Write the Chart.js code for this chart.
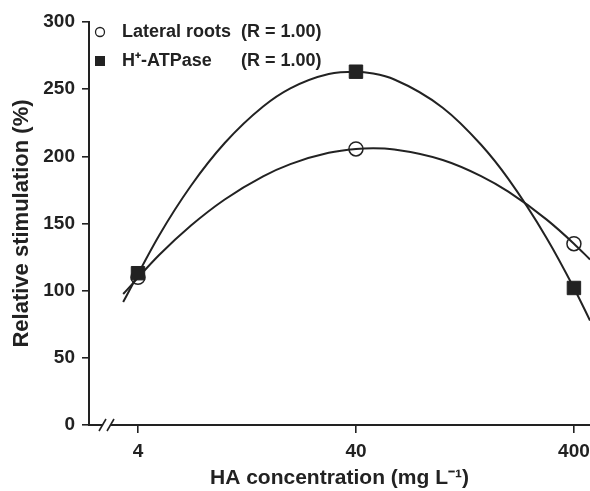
<!DOCTYPE html>
<html>
<head>
<meta charset="utf-8">
<script src="https://cdn.jsdelivr.net/npm/chart.js@4"></script>
<style>
  html, body { margin: 0; padding: 0; background: #fff; }
  #wrap { width: 590px; height: 491px; position: relative; }
</style>
</head>
<body>
<div id="wrap"><canvas id="chart"></canvas></div>
<script>
// measured points (HA concentration, mg/L)
const concentrations = [4, 40, 400];
const lateralRoots = [110, 205.5, 135];
const hAtpase = [113, 263, 102];

// fitted curves
const fitX = [3.42, 5, 7, 10, 15, 20, 30, 40, 48, 60, 100, 150, 200, 300, 400, 474];
const lateralFit = [97.5, 126.5, 148.5, 167.9, 185.1, 194.2, 202.6, 205.5, 206, 205.1, 197.3, 185.3, 173.7, 152.9, 135, 123.2];
const atpaseFit = [91.5, 141.1, 178.1, 209.9, 237.1, 250.6, 261.3, 263, 261.6, 257.2, 236.2, 208.6, 183.2, 139.1, 102, 77.8];

const xTicks = [4, 40, 400];
const yTicks = [0, 50, 100, 150, 200, 250, 300];
const legendNote = '(R = 1.00)';

const INK = '#222';
const FONT = '"Liberation Sans", Arial, Helvetica, sans-serif';

const toPoints = (xs, ys) => xs.map((x, i) => ({ x, y: ys[i] }));

// axis break marks + legend drawn on top
const extras = {
  id: 'extras',
  afterDraw(chart) {
    const { ctx, chartArea } = chart;
    const y0 = chartArea.bottom;

    ctx.save();
    // the "//" break on the x axis
    ctx.fillStyle = '#fff';
    ctx.fillRect(103, y0 - 2, 8, 4);
    ctx.strokeStyle = INK;
    ctx.lineWidth = 1.6;
    [[99, 106], [107, 114]].forEach(([a, b]) => {
      ctx.beginPath();
      ctx.moveTo(a, y0 + 6);
      ctx.lineTo(b, y0 - 6);
      ctx.stroke();
    });

    // legend
    ctx.font = `bold 18px ${FONT}`;
    ctx.textBaseline = 'middle';
    const rows = [
      { label: chart.data.datasets[0].label, y: 32, mark: 'circle' },
      { label: chart.data.datasets[1].label, y: 61, mark: 'rect' },
    ];
    rows.forEach((r) => {
      if (r.mark === 'circle') {
        ctx.beginPath();
        ctx.arc(100, r.y, 4.5, 0, Math.PI * 2);
        ctx.fillStyle = '#fff';
        ctx.fill();
        ctx.lineWidth = 1.3;
        ctx.strokeStyle = INK;
        ctx.stroke();
      } else {
        ctx.fillStyle = INK;
        ctx.fillRect(95, r.y - 5, 10, 10);
      }
      ctx.fillStyle = INK;
      ctx.fillText(r.label, 122, r.y);
      ctx.fillText(legendNote, 241, r.y);
    });
    ctx.restore();
  },
};

new Chart(document.getElementById('chart'), {
  type: 'scatter',
  data: {
    datasets: [
      {
        label: 'Lateral roots',
        data: toPoints(concentrations, lateralRoots),
        showLine: false,
        pointStyle: 'circle',
        pointRadius: 7,
        pointBackgroundColor: 'rgba(255,255,255,0)',
        pointBorderColor: INK,
        pointBorderWidth: 1.5,
        order: 1,
      },
      {
        label: 'H⁺-ATPase',
        data: toPoints(concentrations, hAtpase),
        showLine: false,
        pointStyle: 'rect',
        pointRadius: 9.5,
        pointBackgroundColor: INK,
        pointBorderColor: INK,
        pointBorderWidth: 1,
        order: 0,
      },
      {
        label: 'Lateral roots fit',
        data: toPoints(fitX, lateralFit),
        showLine: true,
        pointRadius: 0,
        borderColor: INK,
        borderWidth: 2,
        cubicInterpolationMode: 'monotone',
        order: 2,
      },
      {
        label: 'H⁺-ATPase fit',
        data: toPoints(fitX, atpaseFit),
        showLine: true,
        pointRadius: 0,
        borderColor: INK,
        borderWidth: 2,
        cubicInterpolationMode: 'monotone',
        order: 2,
      },
    ],
  },
  options: {
    responsive: true,
    maintainAspectRatio: false,
    animation: false,
    layout: { autoPadding: false, padding: { top: 22, right: 0, bottom: 0, left: 0 } },
    plugins: {
      legend: { display: false },
      tooltip: { enabled: false },
    },
    scales: {
      x: {
        type: 'logarithmic',
        min: 2.384,
        max: 474,
        afterBuildTicks: (scale) => { scale.ticks = xTicks.map((v) => ({ value: v })); },
        afterFit: (scale) => {
          scale.height = 66;
          scale.paddingLeft = 0;
          scale.paddingRight = 0;
        },
        ticks: {
          color: INK,
          font: { family: FONT, size: 19, weight: 'bold' },
          padding: 7,
          maxRotation: 0,
          autoSkip: false,
          callback: (v) => String(v),
        },
        grid: { drawOnChartArea: false, drawTicks: true, tickLength: 8, color: INK, lineWidth: 1.6 },
        border: { display: true, color: INK, width: 2 },
        title: {
          display: true,
          text: 'HA concentration (mg L⁻¹)',
          color: INK,
          font: { family: FONT, size: 21, weight: 'bold' },
          padding: { top: 0, bottom: 0 },
        },
      },
      y: {
        min: 0,
        max: 300,
        afterBuildTicks: (scale) => { scale.ticks = yTicks.map((v) => ({ value: v })); },
        afterFit: (scale) => { scale.width = 89; },
        ticks: {
          color: INK,
          font: { family: FONT, size: 19, weight: 'bold' },
          padding: 7,
        },
        grid: { drawOnChartArea: false, drawTicks: true, tickLength: 7, color: INK, lineWidth: 1.6 },
        border: { display: true, color: INK, width: 2 },
        title: {
          display: true,
          text: 'Relative stimulation (%)',
          color: INK,
          font: { family: FONT, size: 22, weight: 'bold' },
          padding: { top: 9, bottom: 0 },
        },
      },
    },
  },
  plugins: [extras],
});
</script>
</body>
</html>
